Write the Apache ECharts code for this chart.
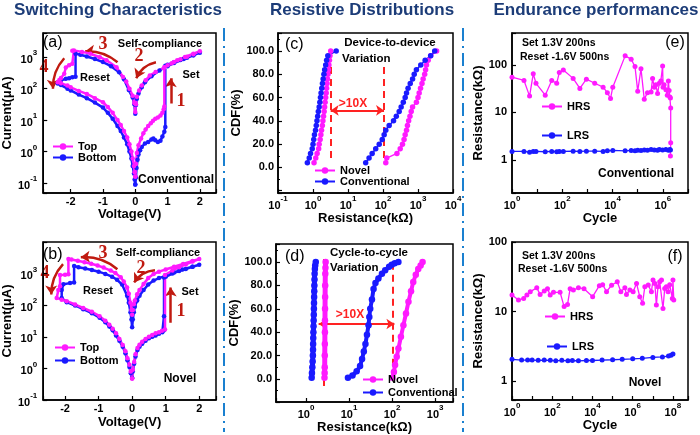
<!DOCTYPE html>
<html>
<head>
<meta charset="utf-8">
<script src="https://cdn.jsdelivr.net/npm/echarts@6/dist/echarts.min.js"></script>
<style>
  html, body { margin: 0; padding: 0; background: #fff; }
  #chart { width: 700px; height: 435px; }
</style>
</head>
<body>
<div id="chart"></div>
<script>
// ---- (a) conventional I-V sweep, [voltage V, current uA] in sweep order
var aTop = [
  [0,0.16],[0.02,0.4],[0.05,0.9],[0.1,1.6],[0.18,2.6],[0.25,3.8],[0.32,5],[0.4,6.5],[0.48,8],[0.55,9.5],[0.62,11],[0.7,12],[0.78,14],[0.84,17],[0.88,22],[0.9,27],
  [0.9,480],[1.0,560],[1.2,700],[1.4,860],[1.6,1030],[1.8,1250],[2.0,1550],
  [1.8,1300],[1.54,1020],[1.3,800],[1.13,640],[0.9,470],[0.63,340],[0.45,260],[0.32,185],[0.2,125],[0.12,88],[0.05,55],[0.02,32],[0,18],
  [-0.03,35],[-0.08,60],[-0.18,100],[-0.28,170],[-0.38,235],[-0.58,480],[-0.89,800],[-1.1,1000],[-1.39,1300],[-1.65,1480],[-1.9,1650],[-1.95,1600],
  [-1.95,620],[-2.05,560],[-2.15,470],[-2.2,300],[-2.3,220],[-2.35,190],[-2.4,160],
  [-2.3,150],[-2.1,125],[-2.0,110],[-1.75,85],[-1.5,68],[-1.25,50],[-1.0,37],[-0.85,26],[-0.7,17],[-0.55,10],[-0.45,7],[-0.35,4.5],[-0.25,2.8],[-0.18,1.7],[-0.12,1.0],[-0.08,0.6],[-0.04,0.35],[-0.02,0.22],[0,0.16]
];
var aBottom = [
  [0,0.09],[0.02,0.15],[0.04,0.3],[0.07,0.55],[0.1,0.8],[0.15,1.1],[0.2,1.4],[0.3,1.8],[0.4,2.0],[0.5,2.4],[0.56,2.6],[0.62,2.3],[0.7,2.0],[0.78,2.2],[0.84,3.0],[0.9,4.3],[0.93,6],
  [0.93,540],[1.0,580],[1.2,690],[1.4,820],[1.6,960],[1.8,1150],[2.0,1400],
  [1.8,1150],[1.5,880],[1.2,650],[1.0,520],[0.75,380],[0.5,250],[0.3,160],[0.2,110],[0.1,70],[0.05,48],[0.02,30],[0,16],
  [-0.03,32],[-0.08,52],[-0.2,90],[-0.35,200],[-0.5,330],[-0.75,520],[-1.0,700],[-1.25,880],[-1.5,1050],[-1.7,1200],[-1.85,1300],
  [-1.85,240],[-1.95,230],[-2.05,215],[-2.15,205],[-2.3,185],[-2.4,145],
  [-2.3,130],[-2.1,100],[-2.0,88],[-1.75,65],[-1.5,50],[-1.25,36],[-1.0,25],[-0.85,17],[-0.7,11],[-0.55,6.5],[-0.45,4.5],[-0.35,2.8],[-0.25,1.7],[-0.18,1.0],[-0.12,0.6],[-0.08,0.35],[-0.04,0.2],[-0.02,0.13],[0,0.09]
];
// ---- (b) novel I-V sweep
var bTop = [
  [0,0.48],[0.02,0.9],[0.06,1.6],[0.1,2.8],[0.16,4.4],[0.22,5.6],[0.3,7],[0.4,8.5],[0.5,10],[0.6,11.5],[0.7,13],[0.8,14],[0.89,15.5],[0.98,17],
  [0.98,900],[1.2,1250],[1.4,1600],[1.6,1950],[1.8,2400],[2.0,2900],
  [1.8,2500],[1.52,2030],[1.25,1650],[1.0,1350],[0.8,1150],[0.64,970],[0.48,720],[0.34,465],[0.22,300],[0.15,224],[0.08,140],[0.05,107],[0.02,70],[0,50],
  [-0.02,70],[-0.05,120],[-0.1,230],[-0.15,365],[-0.25,560],[-0.34,760],[-0.5,1050],[-0.64,1250],[-0.85,1550],[-1.03,1800],[-1.22,2050],[-1.42,2300],[-1.62,2550],[-1.81,2800],[-1.9,2900],
  [-1.9,950],[-2.0,920],[-2.15,900],[-2.15,400],[-2.2,300],[-2.25,170],
  [-2.1,150],[-1.95,134],[-1.7,105],[-1.46,82],[-1.2,62],[-0.97,45],[-0.8,32],[-0.68,24],[-0.58,18],[-0.48,13],[-0.38,8.5],[-0.28,5.5],[-0.2,3.5],[-0.14,2.1],[-0.08,1.3],[-0.04,0.8],[0,0.48]
];
var bBottom = [
  [0,0.5],[0.02,0.8],[0.06,1.4],[0.1,2.4],[0.16,3.8],[0.22,4.8],[0.3,6],[0.4,7.5],[0.5,9],[0.6,10],[0.7,11],[0.8,12.5],[0.9,14],[0.95,16],[0.95,45],
  [0.95,750],[1.0,800],[1.2,1000],[1.4,1200],[1.6,1400],[1.8,1650],[2.0,1900],
  [1.8,1650],[1.5,1350],[1.25,1080],[1.0,850],[0.8,720],[0.64,600],[0.48,450],[0.34,300],[0.22,200],[0.15,140],[0.08,90],[0.05,60],[0.02,35],[0,20],
  [-0.02,35],[-0.05,60],[-0.1,120],[-0.15,200],[-0.3,450],[-0.45,640],[-0.6,800],[-0.8,980],[-1.0,1150],[-1.2,1300],[-1.4,1450],[-1.6,1600],[-1.73,1750],
  [-1.73,520],[-1.85,500],[-2.05,460],[-2.1,300],[-2.1,170],
  [-1.95,125],[-1.7,98],[-1.46,75],[-1.2,56],[-0.97,40],[-0.8,29],[-0.68,21],[-0.58,16],[-0.48,11],[-0.38,7.5],[-0.28,4.8],[-0.2,3],[-0.14,1.8],[-0.08,1.1],[-0.04,0.7],[0,0.5]
];
// arrows 1..4 in data coords [start, end]
var aArrows = [[[1.1,34],[1.1,215]], [[0.64,690],[0.03,215]], [[-0.55,690],[-1.55,1550]], [[-2.2,930],[-2.55,100]]];
var bArrows = [[[1.15,28],[1.15,365]], [[0.68,1280],[0.06,525]], [[-0.44,1370],[-1.53,3300]], [[-2.06,2000],[-2.41,218]]];
var arrowBend = [0, -0.25, -0.2, -0.2];

// ---- (c) device-to-device CDF (%), resistance kOhm
var cdfDevice  = [4,8,12,16,20,24,28,32,36,40,44,48,52,56,60,64,68,72,76,80,84,88,92,96,100];
var cNovelLRS  = [1.07,1.2,1.31,1.45,1.5,1.6,1.68,1.75,1.85,1.92,2.0,2.08,2.15,2.22,2.3,2.38,2.45,2.52,2.6,2.68,2.75,2.85,2.95,3.05,3.2];
var cConvLRS   = [0.69,0.78,0.85,0.95,1.0,1.05,1.1,1.18,1.24,1.3,1.36,1.42,1.5,1.57,1.63,1.7,1.78,1.86,1.95,2.05,2.15,2.3,2.45,2.65,4.6];
var cNovelHRS  = [120,128,250,310,360,400,430,470,500,540,590,640,700,900,1000,1080,1180,1300,1400,1550,1650,1750,1950,2300,3400];
var cConvHRS   = [32,40,49,62,78,95,108,120,150,200,240,290,330,380,430,470,520,600,700,780,900,1200,1600,2300,3000];
var cGuides = [[[3.2,8],[3.2,88]], [[107,8],[107,88]]];
var cSpan = [[3.2,49],[107,49]];

// ---- (d) cycle-to-cycle, [resistance kOhm, CDF %]
var dConvLRS  = [[1.35,1],[1.37,5],[1.4,10],[1.42,15],[1.44,20],[1.45,25],[1.46,30],[1.47,35],[1.48,40],[1.49,45],[1.5,50],[1.51,55],[1.52,60],[1.53,65],[1.54,70],[1.55,75],[1.56,80],[1.57,85],[1.58,90],[1.6,94],[1.63,97],[1.68,100]];
var dNovelLRS = [[2.68,1],[2.7,5],[2.71,10],[2.72,20],[2.73,30],[2.74,40],[2.75,50],[2.76,60],[2.77,70],[2.78,80],[2.8,90],[2.82,95],[2.85,100]];
var dConvHRS  = [[9.4,1],[12,3],[15,6.5],[18,11],[20,17],[22,23.5],[24,30],[26,37.7],[28.3,46],[29.5,53],[31,60],[34,68],[37,77],[41,82],[48,86],[58,90],[69,93],[85,96],[98,97.7],[115,99],[140,100]];
var dNovelHRS = [[102,1],[110,6],[117,12],[128,19],[140,26],[160,36],[183,46],[210,56],[240,66],[275,75],[310,83],[355,89],[405,94],[460,97],[510,100]];
var dGuides = [[[2.57,-6],[2.57,103]], [[102,1],[102,98.6]]];
var dSpan = [[1.96,47],[113,47]];

// ---- (e) endurance conventional, [cycle, kOhm]
var eHRS = [[1,55],[3,47],[5,22],[7,65],[9,41],[21,23],[38,47],[60,41],[76,69],[110,78],[270,52],[500,32],[910,50],[1950,41],[4200,34],[6200,26],[8300,19.6],[10200,34],[31600,155],[55000,132],[78000,92],[100000,28],[135000,83],[182000,19],[245000,26],[340000,27],[390000,52],[457000,34],[525000,38],[617000,25],[724000,41],[832000,46],[977000,95],[1020000,34],[1120000,38],[1320000,30],[1500000,23],[1660000,46],[1780000,29],[1900000,21],[2000000,20],[2050000,12.3],[2050000,2.3],[2000000,1.2]];
var eLRS = [[1,1.5],[3,1.5],[5,1.45],[7,1.5],[9,1.5],[21,1.48],[38,1.5],[60,1.48],[76,1.5],[110,1.5],[270,1.52],[500,1.5],[910,1.52],[1950,1.52],[4200,1.5],[6200,1.55],[10200,1.58],[31600,1.55],[55000,1.58],[78000,1.55],[100000,1.6],[135000,1.58],[182000,1.62],[245000,1.6],[340000,1.65],[457000,1.62],[617000,1.6],[724000,1.65],[977000,1.62],[1320000,1.65],[1660000,1.6],[1900000,1.65],[2000000,1.62]];

// ---- (f) endurance novel
var fHRS = [[1,17.4],[2.1,14.7],[3.8,15.5],[5.5,17.4],[8.1,19.4],[17,22],[25,17.7],[40,19.9],[58,21.4],[79,17.4],[115,19],[245,19],[390,11.8],[575,12.7],[775,21.4],[1120,20.5],[2000,22],[3800,21.4],[10200,16.4],[22000,23.7],[32000,24.5],[50000,19.4],[89000,24],[170000,27],[257000,19.4],[407000,22],[490000,17.7],[724000,20.5],[1050000,19.4],[1550000,25.5],[2240000,16.4],[3100000,13.2],[4000000,22.9],[5900000,24.1],[8500000,19.4],[10200000,28.5],[12600000,25.5],[15000000,12.4],[18000000,22.9],[22000000,27],[27000000,28.5],[32000000,11.1],[39000000,21.6],[47000000,22.9],[57000000,19.4],[69000000,24.5],[93000000,15.5],[100000000,28.5],[110000000,14.7]];
var fLRS = [[1,2.05],[3,2.0],[6,2.0],[10,2.0],[20,1.98],[40,2.0],[80,1.98],[150,1.95],[300,1.98],[600,1.95],[1000,1.97],[2000,1.95],[5000,1.97],[10000,1.97],[30000,2.0],[100000,2.02],[300000,2.05],[1000000,2.08],[3000000,2.12],[10000000,2.18],[30000000,2.22],[60000000,2.28],[80000000,2.35],[100000000,2.45]];

var FONT = '"Liberation Sans", Arial, sans-serif';
var PINK = '#ff1aff', BLUE = '#1a1aff', RED = '#ff2222', DARKRED = '#c01a10', NAVY = '#1c3c78', SEP = '#1a80d0';

function isPow10(v) {
  var e = Math.log10(v);
  return Math.abs(e - Math.round(e)) < 1e-6;
}
function powLabel(step, hideAbove) {
  return function(v) {
    if (!isPow10(v)) return '';
    var e = Math.round(Math.log10(v));
    if (e % step !== 0) return '';
    if (hideAbove !== undefined && e > hideAbove) return '';
    return '{b|10}{s|' + e + '}';
  };
}
function plainLog(v) { return isPow10(v) ? String(Math.round(v)) : ''; }
function intLabel(v) { return Math.abs(v - Math.round(v)) < 1e-9 ? String(Math.round(v)) : ''; }
function cdfLabel(v) { return (v >= 0 && v <= 100 && v % 20 === 0) ? v.toFixed(1) : ''; }

var richPow = {
  b: { fontSize: 11, fontWeight: 'bold', fontFamily: FONT, color: '#000', lineHeight: 16, verticalAlign: 'bottom' },
  s: { fontSize: 8, fontWeight: 'bold', fontFamily: FONT, color: '#000', verticalAlign: 'top' }
};

function axis(opts, label) {
  var a = {
    nameLocation: 'middle',
    nameTextStyle: { fontSize: 13, fontWeight: 'bold', color: '#000', fontFamily: FONT },
    axisLine: { onZero: false, lineStyle: { color: '#000', width: 1.5 } },
    axisTick: { inside: true, length: 4, lineStyle: { color: '#000', width: 1.2 } },
    splitLine: { show: false },
    axisLabel: Object.assign({ fontSize: 11, fontWeight: 'bold', color: '#000', fontFamily: FONT, rich: richPow,
                               showMaxLabel: true, showMinLabel: true }, label)
  };
  return Object.assign(a, opts);
}

function grid(l, t, w, h) {
  return { left: l, top: t, width: w, height: h, show: true, borderColor: '#000', borderWidth: 1.5, backgroundColor: 'transparent' };
}

function curve(name, data, color, idx, size, width) {
  return {
    type: 'line', name: name, data: data, xAxisIndex: idx, yAxisIndex: idx,
    symbol: 'circle', symbolSize: size, showSymbol: true, showAllSymbol: true,
    lineStyle: { color: color, width: width }, itemStyle: { color: color },
    animation: false, silent: true
  };
}

function arrows(list, idx) {
  return {
    type: 'lines', coordinateSystem: 'cartesian2d', xAxisIndex: idx, yAxisIndex: idx,
    symbol: ['none', 'arrow'], symbolSize: 9, animation: false, silent: true,
    lineStyle: { color: DARKRED, width: 2.5, opacity: 1 },
    data: list.map(function(c, i) { return { coords: c, lineStyle: { curveness: arrowBend[i] } }; })
  };
}
function guides(list, span, idx) {
  return [{
    type: 'lines', coordinateSystem: 'cartesian2d', xAxisIndex: idx, yAxisIndex: idx,
    symbol: 'none', animation: false, silent: true,
    lineStyle: { color: RED, width: 2, type: [7, 5], opacity: 1 },
    data: list.map(function(c) { return { coords: c }; })
  }, {
    type: 'lines', coordinateSystem: 'cartesian2d', xAxisIndex: idx, yAxisIndex: idx,
    symbol: ['arrow', 'arrow'], symbolSize: 8, animation: false, silent: true,
    lineStyle: { color: RED, width: 2, opacity: 1 },
    data: [{ coords: span }]
  }];
}
function pairs(xs, ys) { return ys.map(function(y, i) { return [xs[i], y]; }); }

function txt(x, y, text, o) {
  o = o || {};
  return {
    type: 'text', x: x, y: y, silent: true,
    style: {
      text: text, fill: o.color || '#000',
      fontSize: o.size || 11, fontWeight: o.weight || 'bold', fontFamily: o.family || FONT,
      align: o.align || 'center', verticalAlign: 'middle'
    }
  };
}
function num(x, y, t) { return txt(x, y, t, { color: DARKRED, size: 18, family: '"Liberation Serif", "DejaVu Serif", serif' }); }

var legendText = { fontSize: 11, fontWeight: 'bold', color: '#000', fontFamily: FONT };
function legend(names, left, top, gap) {
  return { data: names, left: left, top: top, orient: 'vertical', itemGap: gap, itemWidth: 20, itemHeight: 8,
           padding: 0, textStyle: legendText, selectedMode: false };
}

var chart = echarts.init(document.getElementById('chart'), null, { renderer: 'canvas' });

var option = {
  backgroundColor: '#fff',
  animation: false,
  textStyle: { fontFamily: FONT },
  grid: [
    grid(40, 33, 176, 160),
    grid(41, 242, 175, 158),
    grid(278, 33, 175, 160),
    grid(276, 244, 177, 158),
    grid(512, 33, 176, 160),
    grid(512, 242, 176, 158)
  ],
  xAxis: [
    axis({ gridIndex: 0, type: 'value', min: -2.85, max: 2.5, name: 'Voltage(V)', nameGap: 15 }, { formatter: intLabel, margin: 3 }),
    axis({ gridIndex: 1, type: 'value', min: -2.65, max: 2.5, name: 'Voltage(V)', nameGap: 16 }, { formatter: intLabel, margin: 3 }),
    axis({ gridIndex: 2, type: 'log', logBase: 10, min: 0.1, max: 10000, name: 'Resistance(k\u03a9)', nameGap: 15 }, { formatter: powLabel(1), margin: 2 }),
    axis({ gridIndex: 3, type: 'log', logBase: 10, min: 0.2, max: 2600, name: 'Resistance(k\u03a9)', nameGap: 17 }, { formatter: powLabel(1), margin: 2 }),
    axis({ gridIndex: 4, type: 'log', logBase: 10, min: 1, max: 1e7, name: 'Cycle', nameGap: 16 }, { formatter: powLabel(2), margin: 2 }),
    axis({ gridIndex: 5, type: 'log', logBase: 10, min: 1, max: 5.6e8, name: 'Cycle', nameGap: 19 }, { formatter: powLabel(2), margin: 2 })
  ],
  yAxis: [
    axis({ gridIndex: 0, type: 'log', logBase: 10, min: 0.048, max: 5900, name: 'Current(\u03bcA)', nameGap: 24 }, { formatter: powLabel(1), margin: 6 }),
    axis({ gridIndex: 1, type: 'log', logBase: 10, min: 0.1, max: 10000, name: 'Current(\u03bcA)', nameGap: 25 }, { formatter: powLabel(1, 3), margin: 6 }),
    axis({ gridIndex: 2, type: 'value', min: -22, max: 115.5, splitNumber: 7, name: 'CDF(%)', nameGap: 32,
           minorTick: { show: true, splitNumber: 2, length: 2, lineStyle: { color: '#000' } } }, { formatter: cdfLabel, margin: 4 }),
    axis({ gridIndex: 3, type: 'value', min: -19.7, max: 115.4, splitNumber: 7, name: 'CDF(%)', nameGap: 30,
           minorTick: { show: true, splitNumber: 2, length: 2, lineStyle: { color: '#000' } } }, { formatter: cdfLabel, margin: 4 }),
    axis({ gridIndex: 4, type: 'log', logBase: 10, min: 0.2, max: 470, name: 'Resistance(k\u03a9)', nameGap: 26 }, { formatter: plainLog, margin: 5 }),
    axis({ gridIndex: 5, type: 'log', logBase: 10, min: 0.53, max: 101, name: 'Resistance(k\u03a9)', nameGap: 26 }, { formatter: plainLog, margin: 5, showMaxLabel: false })
  ],
  legend: [
    legend(['Top', 'Bottom'], 52, 141, 0),
    legend(['Top', 'Bottom'], 54, 342, 2),
    legend(['Novel', 'Conventional'], 314, 165, 0),
    legend(['Novel', 'Conventional'], 362, 374, 2),
    legend(['HRS'], 541, 101, 0),
    legend(['LRS'], 541, 130, 0),
    legend(['HRS'], 544, 311, 0),
    legend(['LRS'], 546, 341, 0)
  ],
  series: [
    curve('Bottom', aBottom, BLUE, 0, 4.5, 2.5),
    curve('Top', aTop, PINK, 0, 4.5, 2.5),
    curve('Bottom', bBottom, BLUE, 1, 4.5, 2.5),
    curve('Top', bTop, PINK, 1, 4.5, 2.5),
    arrows(aArrows, 0),
    arrows(bArrows, 1),
    curve('Novel', pairs(cNovelHRS, cdfDevice), PINK, 2, 5.5, 1.5),
    curve('Conventional', pairs(cConvHRS, cdfDevice), BLUE, 2, 5.5, 1.5),
    curve('Novel', pairs(cNovelLRS, cdfDevice), PINK, 2, 5.5, 1.5),
    curve('Conventional', pairs(cConvLRS, cdfDevice), BLUE, 2, 5.5, 1.5),
    curve('Novel', dNovelLRS, PINK, 3, 6.5, 5),
    curve('Conventional', dConvLRS, BLUE, 3, 6.5, 5),
    curve('Novel', dNovelHRS, PINK, 3, 6.5, 4),
    curve('Conventional', dConvHRS, BLUE, 3, 6.5, 4),
    curve('HRS', eHRS, PINK, 4, 5, 1.3),
    curve('LRS', eLRS, BLUE, 4, 5, 1.3),
    curve('HRS', fHRS, PINK, 5, 5, 1.3),
    curve('LRS', fLRS, BLUE, 5, 5, 1.3)
  ].concat(guides(cGuides, cSpan, 2), guides(dGuides, dSpan, 3)),
  graphic: [
    txt(118, 10, 'Switching Characteristics', { size: 17, color: NAVY }),
    txt(362, 10, 'Resistive Distributions', { size: 17, color: NAVY }),
    txt(596, 10, 'Endurance performances', { size: 17, color: NAVY }),
    { type: 'line', silent: true, shape: { x1: 224, y1: 28, x2: 224, y2: 432 }, style: { stroke: SEP, lineWidth: 2, lineDash: [13, 5, 2, 5] } },
    { type: 'line', silent: true, shape: { x1: 463, y1: 28, x2: 463, y2: 432 }, style: { stroke: SEP, lineWidth: 2, lineDash: [13, 5, 2, 5] } },
    // (a)
    txt(43, 43, '(a)', { size: 16, weight: 'normal', align: 'left' }),
    txt(160, 44, 'Self-compliance'),
    txt(95, 78, 'Reset'),
    txt(191, 75, 'Set'),
    txt(176, 180, 'Conventional', { size: 12 }),
    num(103, 44, '3'), num(139, 56, '2'), num(44, 67, '4'), num(181, 101, '1'),
    // (b)
    txt(43, 255, '(b)', { size: 16, weight: 'normal', align: 'left' }),
    txt(158, 253, 'Self-compliance'),
    txt(98, 291, 'Reset'),
    txt(190, 292, 'Set'),
    txt(180, 379, 'Novel', { size: 12 }),
    num(103, 253, '3'), num(141, 268, '2'), num(45, 273, '4'), num(181, 311, '1'),
    // (c)
    txt(285, 45, '(c)', { size: 16, weight: 'normal', align: 'left' }),
    txt(390, 43, 'Device-to-device', { size: 11.5 }),
    txt(342, 59, 'Variation', { size: 11.5, align: 'left' }),
    txt(353, 104, '>10X', { size: 12, color: RED }),
    // (d)
    txt(285, 257, '(d)', { size: 16, weight: 'normal', align: 'left' }),
    txt(369, 253, 'Cycle-to-cycle', { size: 11.5 }),
    txt(330, 268, 'Variation', { size: 11.5, align: 'left' }),
    txt(350, 315, '>10X', { size: 12, color: RED }),
    // (e)
    txt(522, 43, 'Set 1.3V 200ns', { size: 10.5, align: 'left' }),
    txt(520, 57, 'Reset -1.6V 500ns', { size: 10.5, align: 'left' }),
    txt(675, 43, '(e)', { size: 16, weight: 'normal' }),
    txt(636, 174, 'Conventional', { size: 12 }),
    // (f)
    txt(522, 256, 'Set 1.3V 200ns', { size: 10.5, align: 'left' }),
    txt(518, 269, 'Reset -1.6V 500ns', { size: 10.5, align: 'left' }),
    txt(675, 257, '(f)', { size: 16, weight: 'normal' }),
    txt(645, 383, 'Novel', { size: 12 })
  ]
};

chart.setOption(option);
</script>
</body>
</html>
